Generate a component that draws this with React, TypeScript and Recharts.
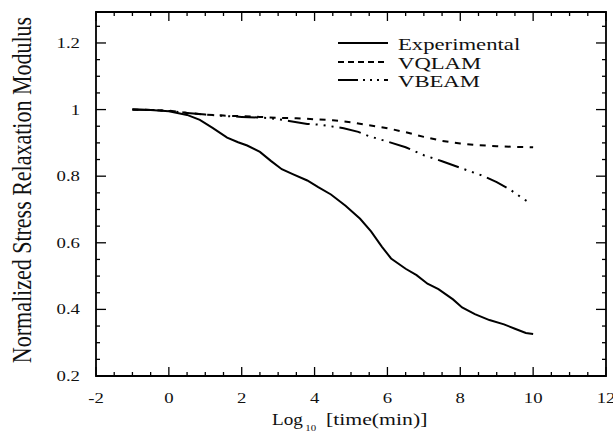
import { LineChart, Line, XAxis, YAxis, Legend, ReferenceLine, ReferenceArea } from "recharts";

// log10(time) vs normalized modulus
const expX = [-1, -0.5, 0, 0.5, 0.85, 1.2, 1.6, 1.9, 2.15, 2.5, 2.8, 3.1, 3.4, 3.8, 4.1, 4.45, 4.85, 5.25, 5.55, 5.85, 6.1, 6.5, 6.8, 7.1, 7.4, 7.8, 8.05, 8.4, 8.8, 9.2, 9.5, 9.8, 10];
const expY = [1.0, 0.999, 0.995, 0.984, 0.969, 0.945, 0.916, 0.902, 0.892, 0.873, 0.846, 0.821, 0.806, 0.787, 0.767, 0.745, 0.711, 0.672, 0.634, 0.588, 0.553, 0.522, 0.503, 0.477, 0.461, 0.43, 0.406, 0.386, 0.368, 0.355, 0.342, 0.329, 0.326];

const vqlamX = [-1, -0.5, 0, 0.5, 1, 1.5, 2, 2.5, 3, 3.5, 4, 4.5, 5, 5.5, 6, 6.5, 7, 7.5, 8, 8.5, 9, 9.5, 10];
const vqlamY = [1.0, 0.999, 0.997, 0.99, 0.985, 0.982, 0.98, 0.978, 0.975, 0.974, 0.971, 0.968, 0.962, 0.953, 0.944, 0.932, 0.918, 0.906, 0.898, 0.893, 0.89, 0.888, 0.887];

const vbeamX = [-1, -0.5, 0, 0.5, 1, 1.5, 2, 2.5, 2.8, 3.3, 3.8, 4.2, 4.8, 5.2, 5.5, 6, 6.5, 7, 7.5, 8, 8.6, 9, 9.35, 9.65, 9.9];
const vbeamY = [1.0, 0.999, 0.996, 0.99, 0.985, 0.981, 0.978, 0.976, 0.974, 0.966, 0.957, 0.954, 0.944, 0.933, 0.92, 0.904, 0.887, 0.863, 0.845, 0.825, 0.802, 0.782, 0.761, 0.738, 0.72];

const xLabels = [-2, 0, 2, 4, 6, 8, 10, 12];
const yLabels = [0.2, 0.4, 0.6, 0.8, 1, 1.2];
const seriesNames = ["Experimental", "VQLAM", "VBEAM"];

const toPoints = (xs: number[], ys: number[]) => xs.map((x, i) => ({ x, y: ys[i] }));
const expData = toPoints(expX, expY);
const vqlamData = toPoints(vqlamX, vqlamY);
const vbeamData = toPoints(vbeamX, vbeamY);

const X_MIN = -2, X_MAX = 12, Y_MIN = 0.2, Y_MAX = 1.293;

// minor ticks every 0.5 on x, every 0.05 on y
const xMinor: number[] = [];
for (let i = 0; i <= 28; i++) xMinor.push(X_MIN + i * 0.5);
const yMinor: number[] = [];
for (let i = 0; i <= 21; i++) yMinor.push(Y_MIN + i * 0.05);

// tick lengths (pixels) turned into data units for a 510 x 364 px plot
const xPerPx = (X_MAX - X_MIN) / 510;
const yPerPx = (Y_MAX - Y_MIN) / 364;
const isMajorX = (v: number) => xLabels.some((l) => Math.abs(l - v) < 1e-6);
const isMajorY = (v: number) => yLabels.some((l) => Math.abs(l - v) < 1e-6);

const FONT = "'Liberation Serif', 'Times New Roman', serif";
const SX = 1.25; // the scan is stretched sideways
const VBEAM_DASH = "22 6 2 6 2 6 2 6";
const VQLAM_DASH = "6 6.5";

const BottomLabel = ({ x, y, payload }: any) => (
  <text transform={`translate(${x},${y + 27}) scale(${SX},1)`} textAnchor="middle" fontFamily={FONT} fontSize={15} fill="#111">
    {payload.value}
  </text>
);

const LeftLabel = ({ x, y, payload }: any) => (
  <text transform={`translate(${x - 16},${y + 5}) scale(${SX},1)`} textAnchor="end" fontFamily={FONT} fontSize={15} fill="#111">
    {String(payload.value)}
  </text>
);

const XTitle = () => (
  <g fontFamily={FONT} fill="#111">
    <text transform="translate(272,425) scale(1.2,1)" fontSize={16}>
      Log
      <tspan fontSize={9} dx={2} dy={6}>10</tspan>
    </text>
    <text transform="translate(326,425) scale(1.36,1)" fontSize={16}>
      [time(min)]
    </text>
  </g>
);

const YTitle = () => (
  <text transform={`translate(31,190) scale(${SX},1) rotate(-90)`} textAnchor="middle" fontFamily={FONT} fontSize={22} fill="#111">
    Normalized Stress Relaxation Modulus
  </text>
);

const LegendBox = () => {
  const dashes = [undefined, "6 4", "20 5 2 5 2 5 2 5"];
  const rowY = [18, 37, 55];
  return (
    <svg width={230} height={70} style={{ overflow: "visible", position: "absolute", left: 0, top: 0 }}>
      {seriesNames.map((name, i) => (
        <g key={name}>
          <line x1={18} x2={68} y1={rowY[i]} y2={rowY[i]} stroke="#000" strokeWidth={2} strokeDasharray={dashes[i]} />
          <text transform={`translate(78,${rowY[i] + 7}) scale(1.32,1)`} fontFamily={FONT} fontSize={17.2} fill="#111">
            {name}
          </text>
        </g>
      ))}
    </svg>
  );
};

const tick = (key: string, a: { x: number; y: number }, b: { x: number; y: number }) => (
  <ReferenceLine key={key} segment={[a, b]} stroke="#000" strokeWidth={1.3} ifOverflow="visible" />
);

export default function App() {
  const xTickMarks = xMinor.flatMap((v) => {
    const len = (isMajorX(v) ? 9 : 4) * yPerPx;
    return [
      tick(`b${v}`, { x: v, y: Y_MIN }, { x: v, y: Y_MIN + len }),
      tick(`t${v}`, { x: v, y: Y_MAX }, { x: v, y: Y_MAX - len }),
    ];
  });
  const yTickMarks = yMinor.flatMap((v) => {
    const len = (isMajorY(v) ? 10 : 4) * xPerPx;
    return [
      tick(`l${v}`, { x: X_MIN, y: v }, { x: X_MIN + len, y: v }),
      tick(`r${v}`, { x: X_MAX, y: v }, { x: X_MAX - len, y: v }),
    ];
  });

  return (
    <div style={{ position: "absolute", left: 0, top: 0, width: 613, height: 442, background: "#fff" }}>
      <LineChart width={613} height={442} margin={{ top: 12, right: 7, bottom: 0, left: 0 }}>
        <XAxis type="number" dataKey="x" domain={[X_MIN, X_MAX]} ticks={xLabels} interval={0} height={66}
          stroke="#000" axisLine={false} tickLine={false} tickSize={0} tickMargin={0}
          tick={(p: any) => <BottomLabel {...p} />} label={<XTitle />} />
        <YAxis type="number" domain={[Y_MIN, Y_MAX]} ticks={yLabels} interval={0} width={96}
          stroke="#000" axisLine={false} tickLine={false} tickSize={0} tickMargin={0}
          tick={(p: any) => <LeftLabel {...p} />} label={<YTitle />} />

        <ReferenceArea x1={X_MIN} x2={X_MAX} y1={Y_MIN} y2={Y_MAX} fill="none" fillOpacity={0} stroke="#000" strokeWidth={1.8} strokeOpacity={1} ifOverflow="visible" />
        {xTickMarks}
        {yTickMarks}

        <Legend
          verticalAlign="top"
          align="left"
          content={() => <LegendBox />}
          wrapperStyle={{ position: "absolute", left: 320, top: 25, width: 230, height: 0, overflow: "visible" }}
        />
        <Line data={expData} dataKey="y" name={seriesNames[0]} type="linear" stroke="#000" strokeWidth={2} dot={false} isAnimationActive={false} />
        <Line data={vqlamData} dataKey="y" name={seriesNames[1]} type="linear" stroke="#000" strokeWidth={2} strokeDasharray={VQLAM_DASH} dot={false} isAnimationActive={false} />
        <Line data={vbeamData} dataKey="y" name={seriesNames[2]} type="linear" stroke="#000" strokeWidth={2} strokeDasharray={VBEAM_DASH} dot={false} isAnimationActive={false} />
      </LineChart>
    </div>
  );
}
